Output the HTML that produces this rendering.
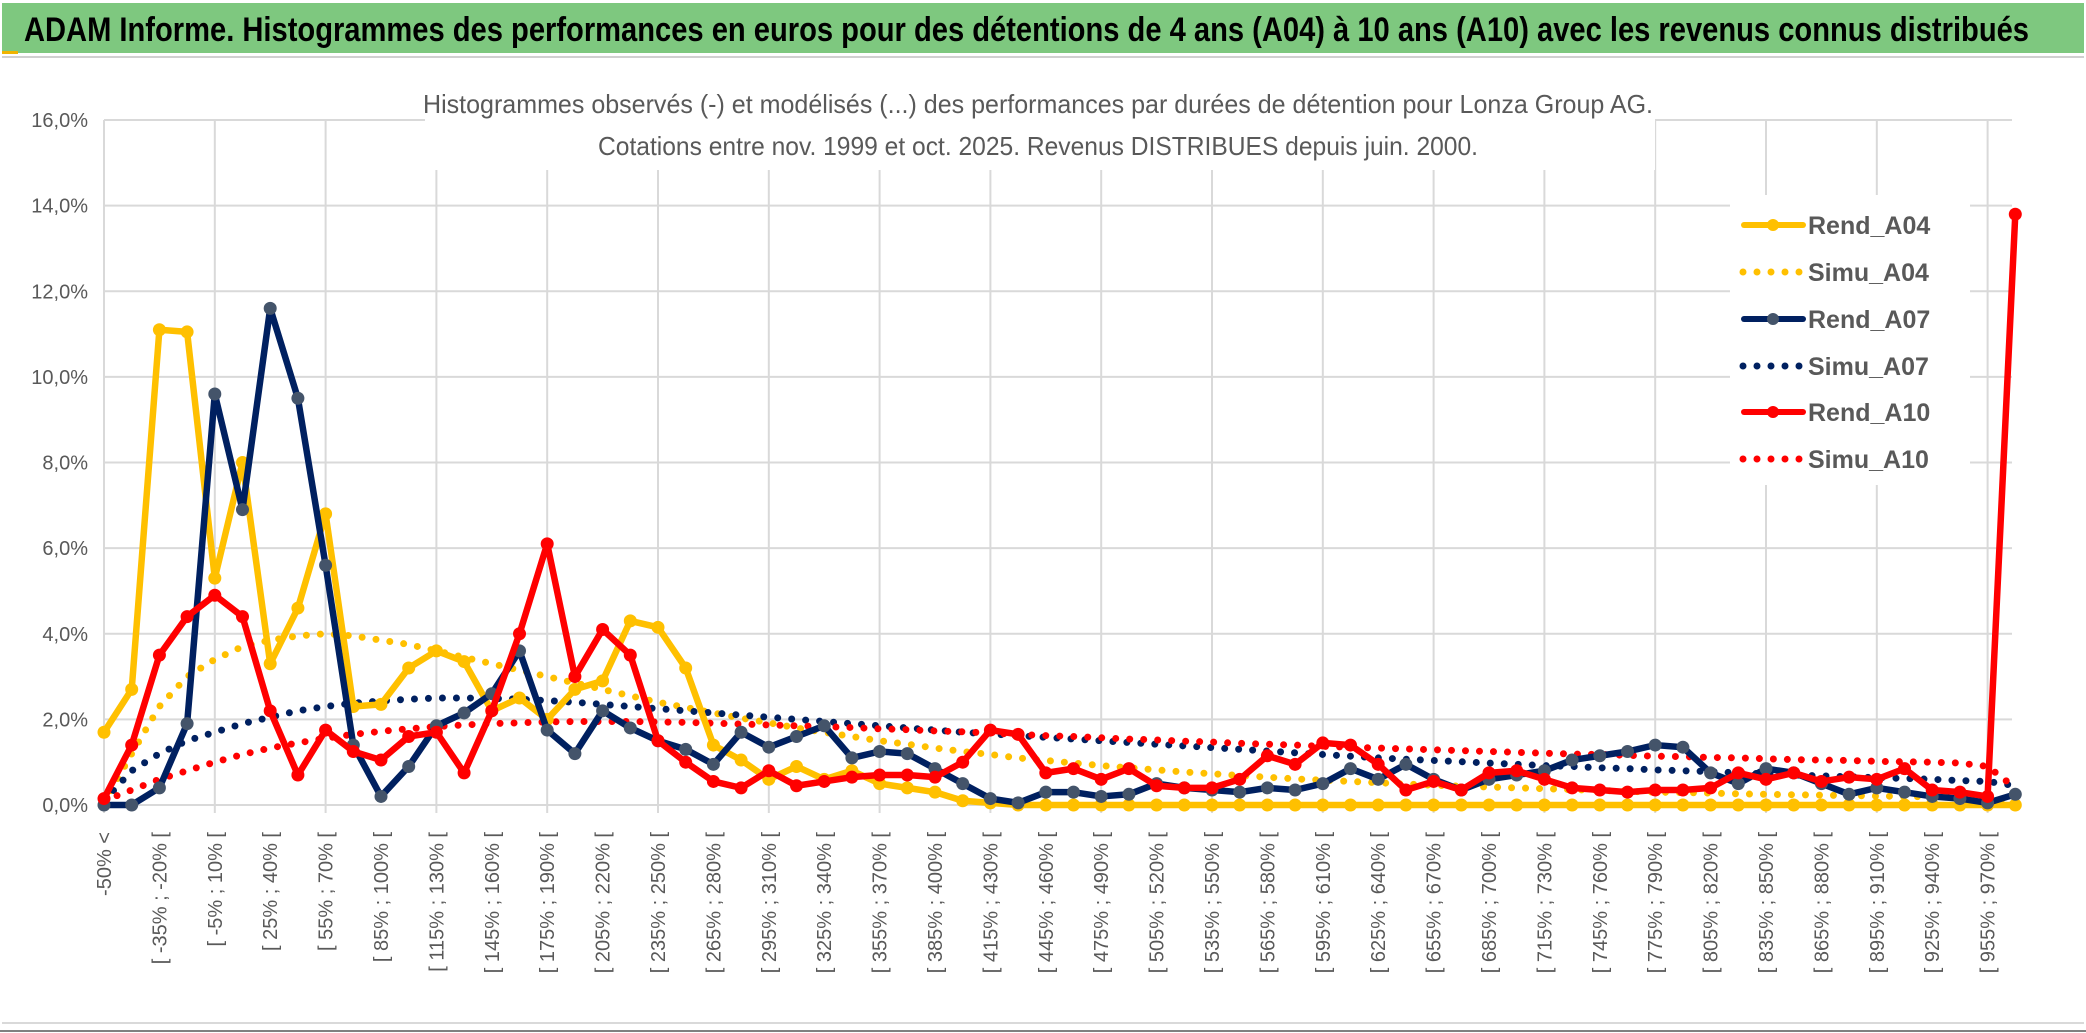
<!DOCTYPE html>
<html><head><meta charset="utf-8"><style>
html,body{margin:0;padding:0;background:#fff;}
svg{display:block;font-family:"Liberation Sans",sans-serif;}
</style></head><body>
<svg id="chart" width="2086" height="1033" viewBox="0 0 2086 1033">
<rect x="0" y="0" width="2086" height="1033" fill="#fff"/>
<rect x="2" y="3" width="2082" height="50" fill="#7ec87f"/>
<rect x="2" y="51" width="16" height="3" fill="#f0b400"/>
<line x1="2" y1="57" x2="2084" y2="57" stroke="#d0d0d0" stroke-width="2"/>
<line x1="2" y1="1023" x2="2084" y2="1023" stroke="#d9d9d9" stroke-width="2"/>
<line x1="0" y1="1031" x2="2086" y2="1031" stroke="#808080" stroke-width="2"/>
<text x="24" y="41" font-size="34" font-weight="bold" fill="#000" textLength="2005" lengthAdjust="spacingAndGlyphs">ADAM Informe. Histogrammes des performances en euros pour des détentions de 4 ans (A04) à 10 ans (A10) avec les revenus connus distribués</text>
<g id="grid"></g>
<g id="yticks"></g>
<g id="xticks"></g>
<rect x="425" y="80" width="1230" height="90" fill="#fff"/>
<text x="1038" y="113" font-size="26" fill="#595959" text-anchor="middle" textLength="1230" lengthAdjust="spacingAndGlyphs">Histogrammes observés (-) et modélisés (...) des performances par durées de détention pour Lonza Group AG.</text>
<text x="1038" y="155" font-size="26" fill="#595959" text-anchor="middle" textLength="880" lengthAdjust="spacingAndGlyphs">Cotations entre nov. 1999 et oct. 2025. Revenus DISTRIBUES depuis juin. 2000.</text>
<g id="series"></g>
<g id="legend"></g>
</svg>
<script>
const categories = (function(){const a=["-50% <"];for(let k=1;k<=68;k++){const s=-50+15*(k-1);a.push("[ "+s+"% ; "+(s+15)+"% [");}a.push("970% >");return a;})();
const rendA04 = [1.7,2.7,11.1,11.05,5.3,8.0,3.3,4.6,6.8,2.3,2.35,3.2,3.6,3.35,2.2,2.5,2.0,2.7,2.9,4.3,4.15,3.2,1.4,1.05,0.6,0.9,0.6,0.8,0.5,0.4,0.3,0.1,0.05,0,0,0,0,0,0,0,0,0,0,0,0,0,0,0,0,0,0,0,0,0,0,0,0,0,0,0,0,0,0,0,0,0,0,0,0,0];
const rendA07 = [0,0,0.4,1.9,9.6,6.9,11.6,9.5,5.6,1.4,0.2,0.9,1.85,2.15,2.6,3.6,1.75,1.2,2.2,1.8,1.5,1.3,0.95,1.7,1.35,1.6,1.85,1.1,1.25,1.2,0.85,0.5,0.15,0.05,0.3,0.3,0.2,0.25,0.5,0.4,0.35,0.3,0.4,0.35,0.5,0.85,0.6,0.95,0.6,0.35,0.6,0.7,0.8,1.05,1.15,1.25,1.4,1.35,0.75,0.5,0.85,0.75,0.5,0.25,0.4,0.3,0.2,0.15,0.05,0.25];
const rendA10 = [0.15,1.4,3.5,4.4,4.9,4.4,2.2,0.7,1.75,1.25,1.05,1.6,1.7,0.75,2.2,4.0,6.1,3.0,4.1,3.5,1.5,1.0,0.55,0.4,0.8,0.45,0.55,0.65,0.7,0.7,0.65,1.0,1.75,1.65,0.75,0.85,0.6,0.85,0.45,0.4,0.4,0.6,1.15,0.95,1.45,1.4,0.95,0.35,0.55,0.35,0.75,0.8,0.6,0.4,0.35,0.3,0.35,0.35,0.4,0.75,0.6,0.75,0.55,0.65,0.6,0.85,0.35,0.3,0.2,13.8];
const simuA04 = [0.05,1.2,2.3,3.0,3.4,3.7,3.85,3.95,4.0,3.95,3.85,3.75,3.6,3.45,3.3,3.15,3.0,2.85,2.7,2.55,2.4,2.28,2.15,2.03,1.92,1.8,1.7,1.6,1.5,1.42,1.33,1.25,1.18,1.1,1.04,0.98,0.92,0.87,0.82,0.77,0.73,0.69,0.65,0.61,0.58,0.55,0.52,0.49,0.46,0.44,0.42,0.4,0.38,0.36,0.34,0.32,0.3,0.29,0.28,0.26,0.25,0.24,0.23,0.22,0.21,0.2,0.19,0.18,0.17,0.05];
const simuA07 = [0.1,0.8,1.2,1.5,1.7,1.9,2.05,2.2,2.3,2.38,2.43,2.47,2.5,2.5,2.49,2.47,2.44,2.4,2.35,2.3,2.25,2.2,2.15,2.1,2.05,2.0,1.95,1.9,1.85,1.8,1.75,1.7,1.66,1.62,1.58,1.54,1.5,1.46,1.42,1.38,1.34,1.3,1.26,1.22,1.18,1.14,1.1,1.07,1.04,1.01,0.98,0.95,0.92,0.9,0.87,0.85,0.82,0.8,0.78,0.75,0.73,0.7,0.68,0.66,0.64,0.62,0.6,0.57,0.55,0.45];
const simuA10 = [0.1,0.35,0.6,0.8,1.0,1.18,1.33,1.45,1.56,1.65,1.72,1.78,1.83,1.87,1.9,1.92,1.94,1.95,1.95,1.95,1.94,1.93,1.91,1.89,1.87,1.85,1.83,1.81,1.78,1.76,1.73,1.71,1.68,1.65,1.62,1.6,1.57,1.54,1.52,1.49,1.47,1.44,1.42,1.4,1.37,1.35,1.33,1.31,1.29,1.27,1.25,1.23,1.21,1.19,1.18,1.16,1.14,1.13,1.11,1.1,1.08,1.06,1.05,1.04,1.02,1.01,1.0,0.98,0.9,0.4];
const yTicks = [0,2,4,6,8,10,12,14,16];
const legendLabels = ["Rend_A04","Simu_A04","Rend_A07","Simu_A07","Rend_A10","Simu_A10"];

const NS="http://www.w3.org/2000/svg";
const X0=104, STEP=27.7, Y0=805, YTOP=120, YMAX=16, XR=2012;
function xs(i){return X0+i*STEP;}
function ys(v){return Y0-(v/YMAX)*(Y0-YTOP);}
function mk(tag,attrs,parent){const e=document.createElementNS(NS,tag);for(const k in attrs)e.setAttribute(k,attrs[k]);parent.appendChild(e);return e;}

const grid=document.getElementById('grid');
yTicks.forEach(t=>{const l=mk('line',{x1:X0,x2:XR,y1:ys(t),y2:ys(t),stroke:'#d9d9d9','stroke-width':2},grid);

});
for(let i=0;i<categories.length;i+=4){const l=mk('line',{x1:xs(i),x2:xs(i),y1:YTOP,y2:Y0+8,stroke:'#d9d9d9','stroke-width':2},grid);

}

const yg=document.getElementById('yticks');
yTicks.forEach(t=>{const tx=mk('text',{x:88,y:ys(t)+7,'font-size':20,fill:'#595959','text-anchor':'end'},yg);
tx.textContent=t.toFixed(1).replace('.',',')+'%';

});

const xg=document.getElementById('xticks');
for(let i=0;i<categories.length;i+=2){const x=xs(i)+7;const tx=mk('text',{x:x,y:832,'font-size':20,fill:'#595959','text-anchor':'end',transform:'rotate(-90 '+x+' 832)'},xg);
tx.textContent=categories[i];

}

const sg=document.getElementById('series');
function pts(arr){return arr.map((v,i)=>xs(i)+','+ys(v)).join(' ');}
function dotted(arr,color,name){const p=mk('polyline',{points:pts(arr),fill:'none',stroke:color,'stroke-width':7,'stroke-linecap':'round','stroke-dasharray':'0 14'},sg);

}
function solid(arr,color,mcolor,name){const g=mk('g',{},sg);


mk('polyline',{points:pts(arr),fill:'none',stroke:color,'stroke-width':6.5,'stroke-linejoin':'round'},g);
arr.forEach((v,i)=>{const c=mk('circle',{cx:xs(i),cy:ys(v),r:6.5,fill:mcolor},g);

});}
dotted(simuA04,'#ffc000','simu-a04-line');
dotted(simuA07,'#002060','simu-a07-line');
dotted(simuA10,'#ff0000','simu-a10-line');
solid(rendA04,'#ffc000','#ffc000','rend-a04-line');
solid(rendA07,'#002060','#44546a','rend-a07-line');
solid(rendA10,'#ff0000','#ff0000','rend-a10-line');

const lg=document.getElementById('legend');
mk('rect',{x:1730,y:195,width:240,height:290,fill:'#fff'},lg);
const lcol=['#ffc000','#ffc000','#002060','#002060','#ff0000','#ff0000'];
const lrows=[225,272,319,366,412,459];
legendLabels.forEach((lab,i)=>{const g=mk('g',{},lg);


const y=lrows[i];
if(i%2===0){mk('line',{x1:1744,x2:1803,y1:y,y2:y,stroke:lcol[i],'stroke-width':6,'stroke-linecap':'round'},g);
mk('circle',{cx:1773,cy:y,r:6,fill:i===2?'#44546a':lcol[i]},g);}
else{mk('line',{x1:1743,x2:1802,y1:y,y2:y,stroke:lcol[i],'stroke-width':7,'stroke-linecap':'round','stroke-dasharray':'0 14'},g);}
const t=mk('text',{x:1808,y:y+9,'font-size':25,fill:'#595959','font-weight':'bold'},g);
t.textContent=lab;});
</script>
</body></html>
